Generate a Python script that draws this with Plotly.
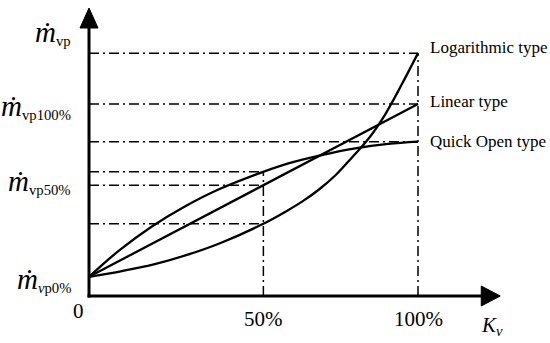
import numpy as np
import plotly.graph_objects as go

# ---- data (schematic units: m_vp100% = 100) ----
kv_quick = [0, 9, 19, 29, 39, 52.5, 60.6, 70.7, 80.9, 90.9, 100]
m_quick = [10, 23.5, 36.1, 46.5, 55.2, 64.4, 69.1, 73.4, 76.9, 79.2, 80.4]

kv_linear = [0, 100]
m_linear = [10, 100]

kv_log = [0, 10, 20, 30, 40, 52.5, 60, 65, 70, 75, 80, 85, 90, 95, 100]
m_log = [10, 13, 16.6, 21.5, 27.6, 37.2, 44.2, 49.4, 55.6, 63.0, 72.3, 82, 94.5, 110, 126.5]

series_names = ["Logarithmic type", "Linear type", "Quick Open type"]
kv_marks = [53, 100]            # where the 50% and 100% openings sit on the sketch
kv_mark_labels = ["50%", "100%"]
y_labels = ["vp", "vp100%", "vp50%", "vp0%"]

FONT = "Liberation Serif, Times New Roman, serif"
BLACK = "#000000"
DASH = "10px,4px,2px,4px"

series = [(kv_log, m_log), (kv_linear, m_linear), (kv_quick, m_quick)]

fig = go.Figure()
for (xs, ys), name in zip(series, series_names):
    fig.add_trace(go.Scatter(x=xs, y=ys, mode="lines", name=name,
                             line=dict(color=BLACK, width=2.3, shape="spline", smoothing=1.0),
                             hoverinfo="skip"))

shapes = []
def seg(x0, y0, x1, y1, width=1.5, dash=DASH):
    shapes.append(dict(type="line", xref="x", yref="y", x0=x0, y0=y0, x1=x1, y1=y1,
                       line=dict(color=BLACK, width=width, dash=dash), layer="below"))

# reference lines at 100 %
x_full = kv_marks[1]
ends = [float(np.interp(x_full, xs, ys)) for xs, ys in series]
for v in ends:
    seg(0, v, x_full, v)
seg(x_full, 0, x_full, max(ends))
# reference lines at 50 %
x_half = kv_marks[0]
halves = [float(np.interp(x_half, xs, ys)) for xs, ys in series]
for v in halves:
    seg(0, v, x_half, v)
seg(x_half, 0, x_half, max(halves))

# axes with arrow heads
X_RANGE = [-27.05, 140.12]
Y_RANGE = [-24.48, 154.17]
px_x = 550 / (X_RANGE[1] - X_RANGE[0])
px_y = 343 / (Y_RANGE[1] - Y_RANGE[0])
y_tip = 150.0
x_tip = 125.0
ah_len_y = 20 / px_y
ah_half_y = 9 / px_x
ah_len_x = 19 / px_x
ah_half_x = 10 / px_y
shapes.append(dict(type="line", x0=0, y0=-0.8, x1=0, y1=y_tip - ah_len_y + 1,
                   line=dict(color=BLACK, width=3)))
shapes.append(dict(type="line", x0=-0.45, y0=0, x1=x_tip - ah_len_x + 1, y1=0,
                   line=dict(color=BLACK, width=3)))
shapes.append(dict(type="path",
                   path=f"M {-ah_half_y} {y_tip - ah_len_y} L 0 {y_tip} L {ah_half_y} {y_tip - ah_len_y} Z",
                   fillcolor=BLACK, line=dict(color=BLACK, width=1)))
shapes.append(dict(type="path",
                   path=f"M {x_tip - ah_len_x} {-ah_half_x} L {x_tip} 0 L {x_tip - ah_len_x} {ah_half_x} Z",
                   fillcolor=BLACK, line=dict(color=BLACK, width=1)))

annotations = []
def ann(x, y, text, size, xanchor="center", yanchor="middle"):
    annotations.append(dict(x=x, y=y, xref="x", yref="y", text=text, showarrow=False,
                            xanchor=xanchor, yanchor=yanchor,
                            font=dict(family=FONT, size=size, color=BLACK)))

M = '<span style="font-size:29px"><i>ṁ</i></span>'
ann(-5.0, 137.5, M + f"<sub>{y_labels[0]}</sub>", 21, xanchor="right")
ann(-5.0, 98.5, M + f"<sub>{y_labels[1]}</sub>", 21, xanchor="right")
ann(-5.0, 59.5, M + f"<sub>{y_labels[2]}</sub>", 21, xanchor="right")
ann(-5.0, 8.5, M + f"<sub><i>v</i>p0%</sub>", 21, xanchor="right")

ann(-3.3, -8.0, "0", 21)
for xv, lab in zip(kv_marks, kv_mark_labels):
    ann(xv, -12.0, lab, 21)
ann(122.5, -15.5, "<i>K</i><sub><i>v</i></sub>", 21)

offsets = [3.0, 1.5, 0.0]
for v, name, off in zip(ends, series_names, offsets):
    ann(x_full + 3.0, v + off, name, 17, xanchor="left")

fig.update_layout(
    width=550, height=343,
    margin=dict(l=0, r=0, t=0, b=0),
    paper_bgcolor="white", plot_bgcolor="white",
    showlegend=False,
    xaxis=dict(range=X_RANGE, visible=False, fixedrange=True),
    yaxis=dict(range=Y_RANGE, visible=False, fixedrange=True),
    shapes=shapes, annotations=annotations,
)

fig.write_html("out.html", config={"displayModeBar": False},
               post_script="document.body.style.margin='0';document.body.style.overflow='hidden';")
